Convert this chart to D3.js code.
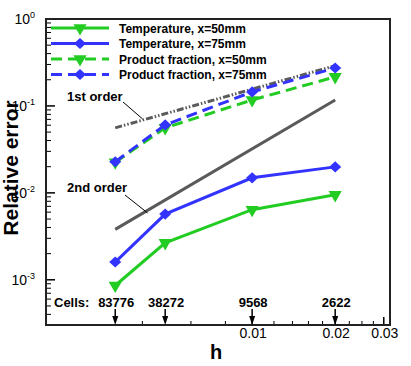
<!DOCTYPE html>
<html>
<head>
<meta charset="utf-8">
<script src="https://cdn.jsdelivr.net/npm/d3@7"></script>
<style>
  body { margin: 0; background: #fff; }
  svg { display: block; font-family: "Liberation Sans", Arial, sans-serif; }
</style>
</head>
<body>
<svg id="chart" width="411" height="366"></svg>
<script>
// grid spacing and cell counts
const h = [0.00319, 0.00484, 0.01, 0.02];
const cells = ["83776", "38272", "9568", "2622"];

// relative errors
const tempX50 = [8.6e-4, 2.66e-3, 6.4e-3, 9.5e-3];
const tempX75 = [1.6e-3, 5.7e-3, 0.0149, 0.0199];
const prodX50 = [0.0225, 0.056, 0.117, 0.216];
const prodX75 = [0.0228, 0.0605, 0.145, 0.273];

// reference slopes
const orderH = [0.00319, 0.02];
const firstOrder = [0.056, 0.29];
const secondOrder = [0.0038, 0.117];

const xTicks = [0.01, 0.02, 0.03];
const xMinor = [0.004, 0.006, 0.008, 0.012, 0.014, 0.016, 0.018, 0.0225, 0.025, 0.0275];
const yTicks = [1, 0.1, 0.01, 0.001];
const yTickLabels = ["0", "-1", "-2", "-3"];

const green = "#22cc22", blue = "#3333ff", gray = "#5a5a5a";

let margin = {top: 19, right: 21, bottom: 41, left: 46};
let width = 411 - margin.left - margin.right, height = 366 - margin.top - margin.bottom;

let svg = d3.select("#chart");
let g = svg.append("g").attr("transform", "translate(" + margin.left + "," + margin.top + ")");

let x = d3.scaleLog().domain([0.00179, 0.0316]).range([0, width]);
let y = d3.scaleLog().domain([Math.pow(10, -3.52), 1]).range([height, 0]);

// y minor ticks
let yMinor = [];
[0.0001, 0.001, 0.01, 0.1].forEach(function(d){
    for(let k = 2; k <= 9; k++){
        let v = d * k;
        if(v >= y.domain()[0] && v < 1) yMinor.push(v);
    }
});

g.append("g").selectAll("line").data(yMinor).enter().append("line")
    .attr("x1", 0).attr("x2", 5)
    .attr("y1", d => y(d)).attr("y2", d => y(d))
    .style("stroke", "#000").style("stroke-width", 1);
g.append("g").selectAll("line").data(yTicks).enter().append("line")
    .attr("x1", 0).attr("x2", 9)
    .attr("y1", d => y(d)).attr("y2", d => y(d))
    .style("stroke", "#000").style("stroke-width", 1.5);

let yLab = g.append("g").selectAll("text").data(yTicks).enter().append("text")
    .attr("x", -11).attr("y", d => y(d) + 5)
    .style("text-anchor", "end").style("font-size", "14px");
yLab.append("tspan").text("10");
yLab.append("tspan").attr("dy", -6).style("font-size", "9px").text((d, i) => yTickLabels[i]);

// x ticks
g.append("g").selectAll("line").data(xMinor).enter().append("line")
    .attr("x1", d => x(d)).attr("x2", d => x(d))
    .attr("y1", height).attr("y2", height - 4)
    .style("stroke", "#000").style("stroke-width", 1);
g.append("g").selectAll("line").data(xTicks).enter().append("line")
    .attr("x1", d => x(d)).attr("x2", d => x(d))
    .attr("y1", height).attr("y2", height - 8)
    .style("stroke", "#000").style("stroke-width", 1.5);
g.append("g").selectAll("text").data(xTicks).enter().append("text")
    .attr("x", d => x(d) + 1).attr("y", height + 13)
    .style("text-anchor", "middle").style("font-size", "14px")
    .text(d => d3.format(".2f")(d));

// frame
g.append("rect").attr("x", 0).attr("y", 0).attr("width", width).attr("height", height)
    .style("fill", "none").style("stroke", "#222").style("stroke-width", 2);

// reference lines
let line = d3.line().x(d => x(d[0])).y(d => y(d[1]));
g.append("path").datum(d3.zip(orderH, secondOrder)).attr("d", line)
    .style("fill", "none").style("stroke", gray).style("stroke-width", 3);
g.append("path").datum(d3.zip(orderH, firstOrder)).attr("d", line)
    .style("fill", "none").style("stroke", gray).style("stroke-width", 3)
    .style("stroke-dasharray", "7,2,1.5,2,1.5,2");

const tri = d3.symbol().type(d3.symbolTriangle).size(75);
const dia = d3.symbol().type(d3.symbolSquare).size(62);

function marker(sel, type, color){
    if(type == "tri"){
        sel.attr("d", tri).attr("transform", function(d){ return "translate(" + d[0] + "," + d[1] + ") rotate(180)"; });
    }else{
        sel.attr("d", dia).attr("transform", function(d){ return "translate(" + d[0] + "," + d[1] + ") scale(1.08,1) rotate(45)"; });
    }
    sel.style("fill", color);
}

let series = [
    {values: prodX50, color: green, dash: true, m: "tri"},
    {values: prodX75, color: blue, dash: true, m: "dia"},
    {values: tempX50, color: green, dash: false, m: "tri"},
    {values: tempX75, color: blue, dash: false, m: "dia"}
];

series.forEach(function(s){
    let pts = d3.zip(h, s.values);
    let p = g.append("path").datum(pts).attr("d", line)
        .style("fill", "none").style("stroke", s.color).style("stroke-width", 3);
    if(s.dash) p.style("stroke-dasharray", "11,6");
    g.append("g").selectAll("path").data(pts.map(d => [x(d[0]), y(d[1])])).enter().append("path")
        .call(marker, s.m, s.color);
});

// legend
let legend = [
    {name: "Temperature, x=50mm", color: green, dash: false, m: "tri"},
    {name: "Temperature, x=75mm", color: blue, dash: false, m: "dia"},
    {name: "Product fraction, x=50mm", color: green, dash: true, m: "tri"},
    {name: "Product fraction, x=75mm", color: blue, dash: true, m: "dia"}
];
legend.forEach(function(s, i){
    let ly = 9 + i * 15.5;
    let l = g.append("line").attr("x1", 5).attr("x2", 63).attr("y1", ly).attr("y2", ly)
        .style("stroke", s.color).style("stroke-width", 3);
    if(s.dash) l.style("stroke-dasharray", "11,6");
    g.append("path").datum([34, ly]).call(marker, s.m, s.color);
    g.append("text").attr("x", 73).attr("y", ly + 4.5)
        .style("font-size", "12px").style("font-weight", "bold").text(s.name);
});

// order annotations
g.append("text").attr("x", 21).attr("y", 82).style("font-size", "13px").style("font-weight", "bold").text("1st order");
g.append("line").attr("x1", 77).attr("y1", 83).attr("x2", x(0.00401)).attr("y2", 100)
    .style("stroke", "#000").style("stroke-width", 1);
g.append("text").attr("x", 21).attr("y", 173).style("font-size", "13px").style("font-weight", "bold").text("2nd order");
g.append("line").attr("x1", 79).attr("y1", 176).attr("x2", x(0.00418)).attr("y2", 194)
    .style("stroke", "#000").style("stroke-width", 1);

// cell counts with arrows
g.append("text").attr("x", 8).attr("y", 288).style("font-size", "13px").style("font-weight", "bold").text("Cells:");
g.append("g").selectAll("text").data(cells).enter().append("text")
    .attr("x", (d, i) => x(h[i]) + 1).attr("y", 288)
    .style("text-anchor", "middle").style("font-size", "13px").style("font-weight", "bold")
    .text(d => d);
g.append("g").selectAll("line").data(h).enter().append("line")
    .attr("x1", d => x(d)).attr("x2", d => x(d)).attr("y1", 290).attr("y2", height - 4)
    .style("stroke", "#000").style("stroke-width", 1.5);
g.append("g").selectAll("path").data(h).enter().append("path")
    .attr("d", d => "M" + (x(d) - 3) + "," + (height - 9) + "L" + (x(d) + 3) + "," + (height - 9) + "L" + x(d) + "," + height + "Z")
    .style("fill", "#000");

// axis titles
svg.append("text").attr("transform", "translate(18," + 168 + ") rotate(-90)")
    .style("text-anchor", "middle").style("font-size", "21px").style("font-weight", "bold")
    .text("Relative error");
svg.append("text").attr("x", 216).attr("y", 359)
    .style("text-anchor", "middle").style("font-size", "20px").style("font-weight", "bold")
    .text("h");
</script>
</body>
</html>
